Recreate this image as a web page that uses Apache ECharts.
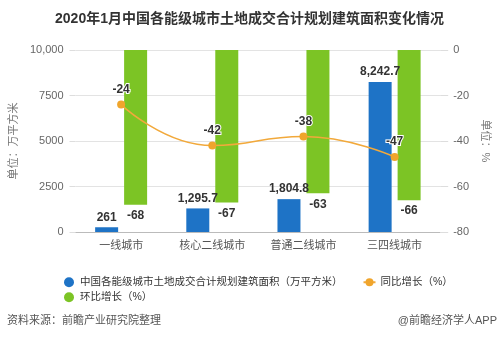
<!DOCTYPE html>
<html><head><meta charset="utf-8">
<script src="https://cdn.jsdelivr.net/npm/echarts@6/dist/echarts.min.js"></script>
<style>html,body{margin:0;padding:0;background:#fff}#c{width:499px;height:339px}</style>
</head><body><div id="c"></div>
<script>
var categories = ['一线城市', '核心二线城市', '普通二线城市', '三四线城市'];
var areaValues = [261, 1295.7, 1804.8, 8242.7];
var yoyValues = [-24, -42, -38, -47];
var momValues = [-68, -67, -63, -66];
var leftTicks = [0, 2500, 5000, 7500, 10000];
var rightTicks = [-80, -60, -40, -20, 0];
var seriesNames = ['中国各能级城市土地成交合计规划建筑面积（万平方米）', '同比增长（%）', '环比增长（%）'];

var font = '"Liberation Sans", Arial, "Noto Sans CJK SC", sans-serif';
var chart = echarts.init(document.getElementById('c'), null, {renderer: 'canvas'});
function fmtNum(v) {
  return v.toLocaleString('en-US', {maximumFractionDigits: 1});
}
var labelStyle = {fontSize: 12, fontWeight: 'bold', color: '#333', fontFamily: font};
chart.setOption({
  animation: false,
  textStyle: {fontFamily: font},
  title: {
    text: '2020年1月中国各能级城市土地成交合计规划建筑面积变化情况',
    left: 'center', top: 7,
    textStyle: {fontSize: 14, fontWeight: 'bold', color: '#333', fontFamily: font}
  },
  graphic: [
    {type: 'text', left: 7, top: 315, style: {text: '资料来源：前瞻产业研究院整理', fontSize: 11, fill: '#555', fontFamily: font}},
    {type: 'text', right: 2, top: 315, style: {text: '@前瞻经济学人APP', fontSize: 11, fill: '#555', fontFamily: font}}
  ],
  legend: [
    {data: [{name: seriesNames[0], icon: 'circle'}, {name: seriesNames[1]}],
     left: 59, top: 272, itemWidth: 12, itemHeight: 10, itemGap: 20,
     textStyle: {fontSize: 10.5, color: '#333', fontFamily: font}},
    {data: [{name: seriesNames[2], icon: 'circle'}],
     left: 59, top: 287, itemWidth: 12, itemHeight: 10,
     textStyle: {fontSize: 10.5, color: '#333', fontFamily: font}}
  ],
  grid: {left: 68, right: 57, top: 50, bottom: 107},
  xAxis: {
    type: 'category', data: categories,
    axisLine: {lineStyle: {color: '#bbb'}},
    axisTick: {alignWithLabel: true, length: 4, lineStyle: {color: '#bbb'}},
    axisLabel: {fontSize: 11, color: '#555', margin: 8}
  },
  yAxis: [
    {type: 'value', min: 0, max: 10000, interval: 2500,
     name: '单位：万平方米', nameLocation: 'middle', nameGap: 45, nameRotate: 90,
     nameTextStyle: {fontSize: 11, color: '#777'},
     axisLine: {show: false},
     axisTick: {show: true, length: 6, lineStyle: {color: '#ddd'}},
     axisLabel: {fontSize: 11, color: '#666', margin: 12,
       formatter: function (v) { return v === 10000 ? '10,000' : String(v); }},
     splitLine: {lineStyle: {color: '#e3e3e3'}}},
    {type: 'value', min: -80, max: 0, interval: 20,
     name: '单位：%', nameLocation: 'middle', nameGap: 31, nameRotate: -90,
     nameTextStyle: {fontSize: 11, color: '#777'},
     axisLine: {show: false},
     axisTick: {show: true, length: 8, lineStyle: {color: '#ddd'}},
     axisLabel: {fontSize: 11, color: '#666', margin: 13},
     splitLine: {show: false}}
  ],
  series: [
    {name: seriesNames[0], type: 'bar', yAxisIndex: 0, data: areaValues,
     barWidth: 23, barGap: '26%',
     itemStyle: {color: '#1e73c6'},
     label: Object.assign({show: true, position: 'top', distance: 4,
       formatter: function (p) { return fmtNum(p.value); }}, labelStyle)},
    {name: seriesNames[2], type: 'bar', yAxisIndex: 1, data: momValues,
     barWidth: 23,
     itemStyle: {color: '#7cc425'},
     label: Object.assign({show: true, position: 'bottom', distance: 5}, labelStyle)},
    {name: seriesNames[1], type: 'line', yAxisIndex: 1, data: yoyValues,
     smooth: true, symbol: 'circle', symbolSize: 8, z: 5,
     lineStyle: {color: '#f2a93b', width: 1.5},
     itemStyle: {color: '#f0a52c'},
     label: Object.assign({show: true, position: 'top', distance: 5,
       textBorderColor: '#fff', textBorderWidth: 2}, labelStyle)}
  ]
});
</script></body></html>
